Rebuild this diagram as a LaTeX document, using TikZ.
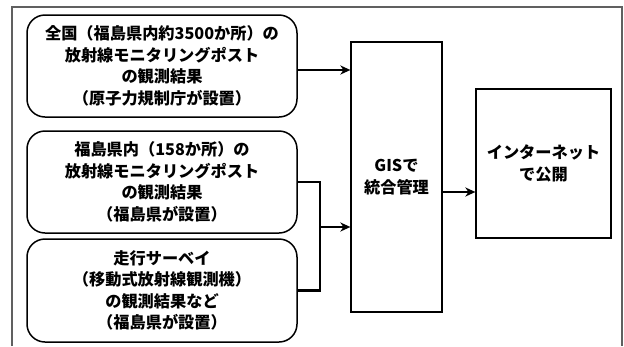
\documentclass[tikz,border=0pt]{standalone}
\usepackage{fontspec}
\setmainfont{Noto Sans CJK JP}
\usetikzlibrary{arrows.meta}
\begin{document}
\begin{tikzpicture}[x=1pt,y=-1pt,
  txt/.style={font=\fontsize{16.2pt}{21.5pt}\selectfont\bfseries, align=center, inner sep=0pt},
  rbox/.style={txt, draw, line width=1.5pt, rounded corners=18pt, minimum width=270pt, minimum height=102pt},
  sbox/.style={txt, draw, line width=1.2pt},
  conn/.style={line width=2.4pt},
  arr/.style={conn, -{Stealth[length=10pt,width=9pt,inset=3pt]}}]
\useasboundingbox (0,0) rectangle (624,346);
\fill[white] (0,0) rectangle (624,346);
\draw[gray!75!black, line width=1.5pt] (12,346) -- (12,7) -- (622,7) -- (622,346);
\node[rbox] (b1) at (162,66) {全国（福島県内約3500か所）の\\放射線モニタリングポスト\\の観測結果\\（原子力規制庁が設置）};
\node[rbox] (b2) at (162,182) {福島県内（158か所）の\\放射線モニタリングポスト\\の観測結果\\（福島県が設置）};
\node[rbox, minimum height=103pt] (b3) at (162,290.5) {走行サーベイ\\（移動式放射線観測機）\\の観測結果など\\（福島県が設置）};
\node[sbox, minimum width=91pt, minimum height=270pt] (gis) at (396.5,177) {GISで\\統合管理};
\node[sbox, minimum width=135pt, minimum height=149pt] (net) at (543.5,163.5) {インターネット\\で公開};
\coordinate (j) at (320,227);
\draw[arr] ([yshift=-4pt]b1.east) -- ([yshift=-4pt]b1.east -| gis.west);
\draw[conn] (b2.east) -| (j) |- (b3.east);
\draw[arr] (j) -- (j -| gis.west);
\draw[arr] ([yshift=-15pt]gis.east) -- ([yshift=-15pt]gis.east -| net.west);
\end{tikzpicture}
\end{document}
